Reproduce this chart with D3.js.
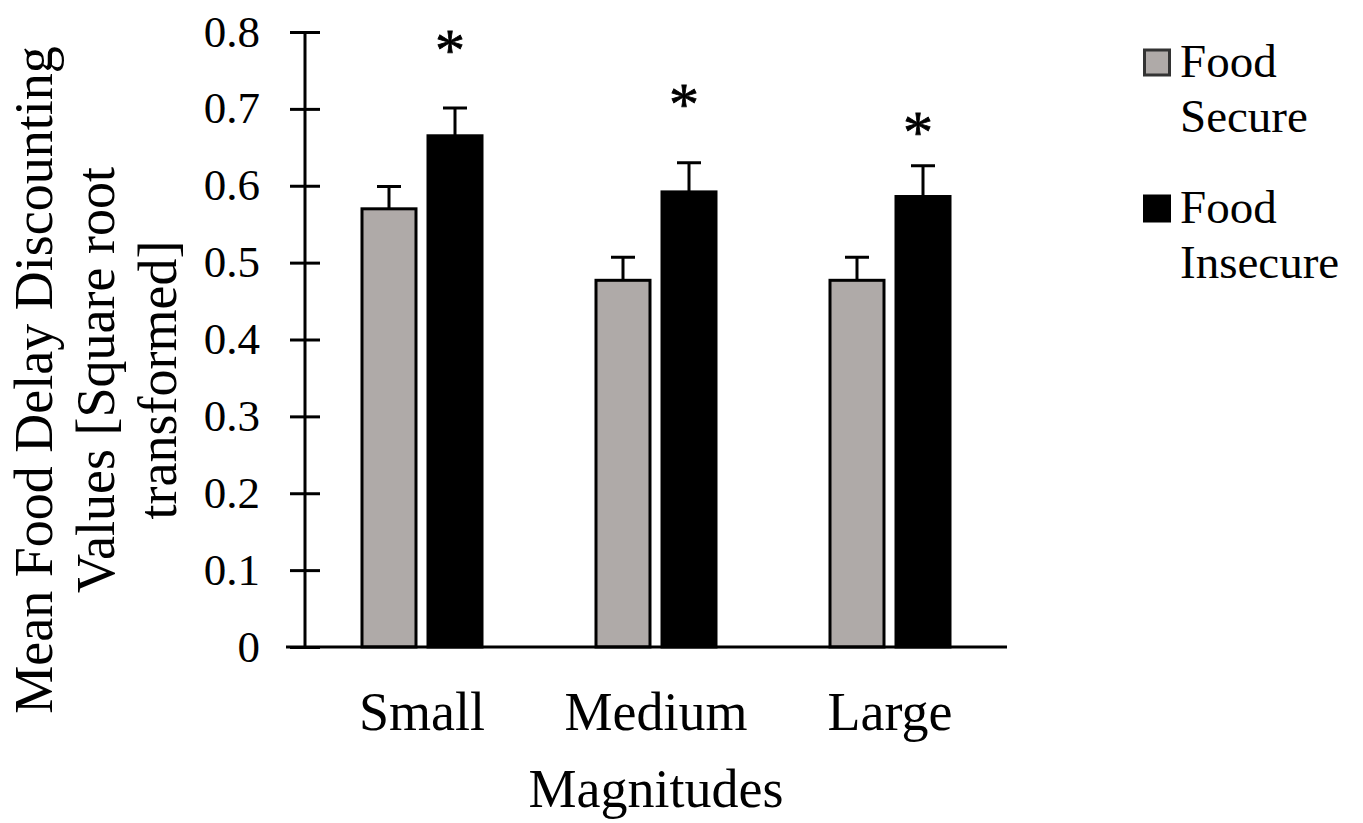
<!DOCTYPE html>
<html>
<head>
<meta charset="utf-8">
<script src="https://cdn.jsdelivr.net/npm/d3@7"></script>
<style>
  body { margin: 0; background: #fff; }
  text { font-family: "Liberation Serif", "Times New Roman", serif; fill: #000; }
</style>
</head>
<body>
<div id="chartDiv"></div>
<script>
// food delay discounting chart

// data
var categories = ['Small', 'Medium', 'Large'];
var seriesNames = ['Food Secure', 'Food Insecure'];
var secureMeans = [0.570, 0.477, 0.477];
var secureErrors = [0.029, 0.030, 0.030];
var insecureMeans = [0.665, 0.592, 0.586];
var insecureErrors = [0.036, 0.038, 0.040];
var starLevels = [0.787, 0.717, 0.680];
var yTicks = [0, 0.1, 0.2, 0.3, 0.4, 0.5, 0.6, 0.7, 0.8];
var legendLines = [['Food', 'Secure'], ['Food', 'Insecure']];
var yTitleLines = ['Mean Food Delay Discounting', 'Values [Square root', 'transformed]'];
var xTitle = 'Magnitudes';

var chartWidth = 1363;
var chartHeight = 823;
var colors = { 'Food Secure': '#afaaa8', 'Food Insecure': '#000000' };
var outline = { 'Food Secure': '#000000', 'Food Insecure': '#000000' };

// rows built from the arrays
var rows = categories.map(function(c, i) {
  return {
    category: c,
    star: starLevels[i],
    bars: [
      { series: seriesNames[0], mean: secureMeans[i], err: secureErrors[i] },
      { series: seriesNames[1], mean: insecureMeans[i], err: insecureErrors[i] }
    ]
  };
});

var svg = d3.select('#chartDiv')
            .append('svg')
            .attr('width', chartWidth)
            .attr('height', chartHeight);

var x0 = d3.scaleBand().domain(categories).range([305, 1007]);
var x1 = d3.scaleBand().domain(seriesNames)
           .range([0, x0.bandwidth()])
           .paddingInner(12 / 66)
           .paddingOuter(0.8636);
var y = d3.scaleLinear().domain([0, 0.8]).range([647, 32]);

// y axis with ticks crossing the line
var yAxis = svg.append('g')
   .attr('transform', 'translate(305,0)')
   .call(d3.axisLeft(y)
     .tickValues(yTicks)
     .tickSize(15)
     .tickPadding(30)
     .tickFormat(function(d) { return d === 0 ? '0' : d.toFixed(1); }));
yAxis.select('.domain').remove();
yAxis.selectAll('.tick line').attr('x1', 15).attr('stroke', '#000').attr('stroke-width', 3);
yAxis.selectAll('.tick text')
   .attr('dy', null)
   .attr('y', 14)
   .style('font-size', '45px')
   .style('font-family', '"Liberation Serif", serif');
svg.append('line')
   .attr('x1', 305).attr('x2', 305)
   .attr('y1', y(0.8)).attr('y2', y(0))
   .attr('stroke', '#000').attr('stroke-width', 3);

// bars
var groups = svg.selectAll('.group')
   .data(rows)
   .enter()
   .append('g')
   .attr('class', 'group')
   .attr('transform', function(d) { return 'translate(' + x0(d.category) + ',0)'; });

groups.selectAll('rect')
   .data(function(d) { return d.bars; })
   .enter()
   .append('rect')
   .attr('x', function(d) { return x1(d.series); })
   .attr('y', function(d) { return y(d.mean); })
   .attr('width', x1.bandwidth())
   .attr('height', function(d) { return y(0) - y(d.mean); })
   .attr('fill', function(d) { return colors[d.series]; })
   .attr('stroke', function(d) { return outline[d.series]; })
   .attr('stroke-width', 3);

// error bars, upper half only
groups.selectAll('.err')
   .data(function(d) { return d.bars; })
   .enter()
   .append('path')
   .attr('class', 'err')
   .attr('fill', 'none')
   .attr('stroke', '#000')
   .attr('stroke-width', 3)
   .attr('d', function(d) {
     var cx = x1(d.series) + x1.bandwidth() / 2;
     var top = y(d.mean + d.err);
     return 'M' + cx + ',' + y(d.mean) + 'V' + top + 'M' + (cx - 12) + ',' + top + 'H' + (cx + 12);
   });

// significance stars
groups.append('text')
   .attr('x', function(d) { return x1(seriesNames[1]) + x1.bandwidth() / 2 - 5; })
   .attr('y', function(d) { return y(d.star) + 28; })
   .attr('text-anchor', 'middle')
   .style('font-size', '60px')
   .style('stroke', '#000')
   .style('stroke-width', 0.8)
   .text('*');

// x axis
var xAxis = svg.append('g')
   .attr('transform', 'translate(0,' + y(0) + ')')
   .call(d3.axisBottom(x0).tickSize(0).tickPadding(45));
xAxis.select('.domain').remove();
xAxis.selectAll('.tick text')
   .style('font-size', '54px')
   .style('font-family', '"Liberation Serif", serif');
svg.append('line')
   .attr('x1', x0.range()[0] - 19).attr('x2', x0.range()[1])
   .attr('y1', y(0)).attr('y2', y(0))
   .attr('stroke', '#000').attr('stroke-width', 3);

// axis titles
svg.append('text')
   .attr('x', (x0.range()[0] + x0.range()[1]) / 2)
   .attr('y', 807)
   .attr('text-anchor', 'middle')
   .style('font-size', '54px')
   .text(xTitle);

var yTitle = svg.append('text')
   .attr('transform', 'translate(52,380) rotate(-90)')
   .attr('text-anchor', 'middle')
   .style('font-size', '54px');
yTitle.selectAll('tspan')
   .data(yTitleLines)
   .enter()
   .append('tspan')
   .attr('x', 0)
   .attr('y', function(d, i) { return i * 62; })
   .text(function(d) { return d; });

// legend
var legend = svg.selectAll('.legend')
   .data(seriesNames)
   .enter()
   .append('g')
   .attr('class', 'legend')
   .attr('transform', function(d, i) { return 'translate(1143,' + (77 + i * 146) + ')'; });

legend.append('rect')
   .attr('x', 1.5)
   .attr('y', -27)
   .attr('width', 25)
   .attr('height', 25)
   .attr('fill', function(d) { return colors[d]; })
   .attr('stroke', function(d, i) { return i === 0 ? '#333' : '#000'; })
   .attr('stroke-width', 3);

legend.append('text')
   .style('font-size', '47px')
   .selectAll('tspan')
   .data(function(d, i) { return legendLines[i]; })
   .enter()
   .append('tspan')
   .attr('x', 37)
   .attr('y', function(d, j) { return j * 55; })
   .text(function(d) { return d; });
</script>
</body>
</html>
